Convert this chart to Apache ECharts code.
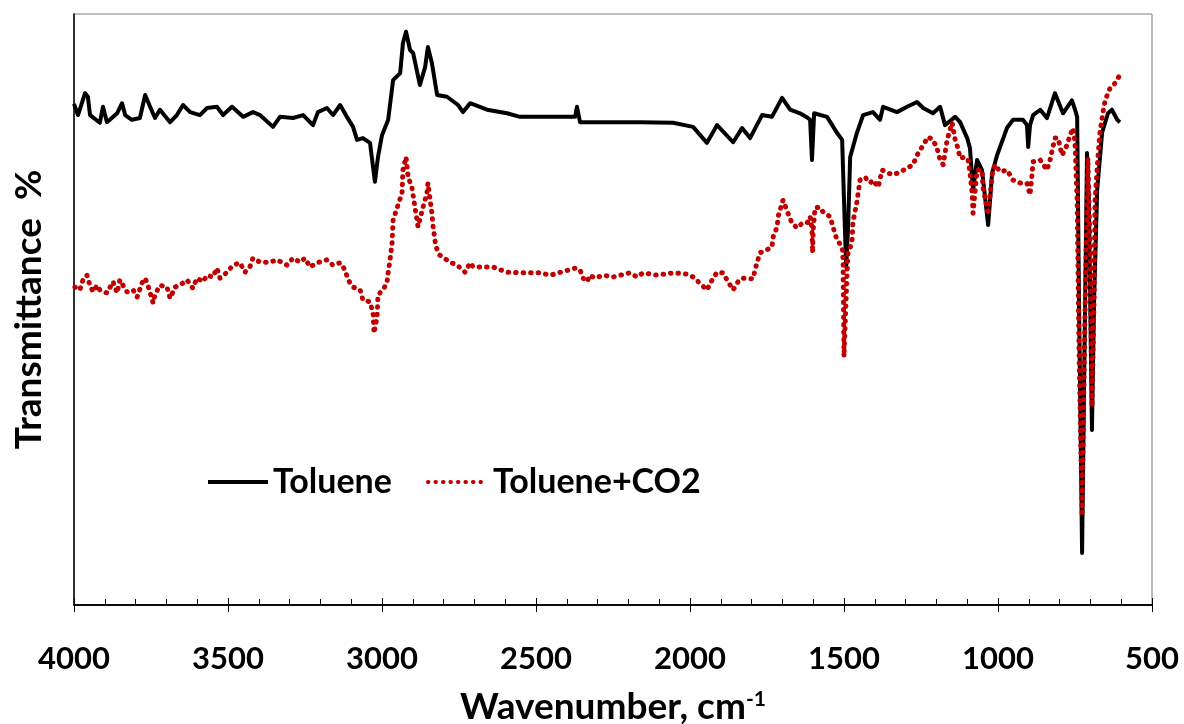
<!DOCTYPE html>
<html>
<head>
<meta charset="utf-8">
<title>FTIR Toluene</title>
<script src="https://cdn.jsdelivr.net/npm/echarts@6/dist/echarts.min.js"></script>
<style>
  html, body { margin: 0; padding: 0; background: #fff; }
  #chart { width: 1184px; height: 724px; }
</style>
</head>
<body>
<div id="chart"></div>
<script>
// wavenumber (cm-1), transmittance (arbitrary %)
var toluene = [
  [4000, 84.8], [3987, 82.9], [3964, 86.6], [3955, 86.0], [3948, 82.9], [3916, 81.6],
  [3906, 84.3], [3893, 81.7], [3860, 83.2], [3844, 84.9], [3834, 82.9], [3812, 82.1],
  [3786, 82.4], [3769, 86.3], [3753, 84.3], [3737, 82.4], [3721, 83.8], [3688, 81.7],
  [3666, 82.9], [3646, 84.6], [3623, 83.4], [3591, 82.9], [3568, 84.1], [3536, 84.3],
  [3516, 82.9], [3487, 84.3], [3451, 82.6], [3419, 83.4], [3396, 82.9], [3354, 80.9],
  [3331, 82.6], [3289, 82.4], [3256, 82.9], [3224, 81.2], [3208, 83.4], [3179, 84.1],
  [3159, 82.9], [3136, 84.6], [3114, 82.6], [3094, 80.9], [3081, 78.7], [3062, 79.0],
  [3039, 78.2], [3023, 71.6], [3013, 75.8], [3000, 79.5], [2980, 82.1], [2964, 88.8],
  [2941, 90.0], [2932, 95.1], [2922, 97.0], [2909, 93.9], [2899, 93.4], [2877, 88.0],
  [2860, 91.0], [2851, 94.4], [2838, 91.7], [2821, 86.3], [2789, 86.0], [2753, 84.6],
  [2737, 83.4], [2714, 84.9], [2659, 83.8], [2594, 83.2], [2552, 82.6], [2487, 82.6],
  [2373, 82.6], [2367, 84.3], [2357, 81.7], [2269, 81.7], [2162, 81.7], [2055, 81.6],
  [1990, 80.9], [1945, 78.2], [1912, 81.2], [1860, 78.3], [1831, 80.7], [1805, 79.0],
  [1766, 82.9], [1734, 82.6], [1701, 85.8], [1675, 83.8], [1643, 83.2], [1617, 82.4],
  [1610, 82.1], [1604, 75.3], [1597, 83.2], [1555, 82.6], [1523, 79.9], [1506, 78.7],
  [1500, 68.5], [1493, 57.2], [1487, 63.5], [1480, 75.8], [1458, 79.9], [1438, 82.9],
  [1406, 83.4], [1383, 82.1], [1373, 84.3], [1328, 83.4], [1295, 84.3], [1263, 85.1],
  [1243, 84.1], [1211, 83.2], [1188, 84.3], [1172, 81.2], [1139, 82.6], [1123, 81.7],
  [1100, 79.0], [1091, 77.3], [1081, 70.2], [1068, 75.3], [1052, 73.6], [1032, 64.3],
  [1019, 73.1], [1003, 76.1], [971, 80.7], [951, 82.1], [919, 82.1], [906, 81.2],
  [902, 77.5], [896, 81.2], [886, 82.9], [863, 83.8], [841, 82.4], [815, 86.6],
  [789, 83.2], [760, 85.4], [750, 83.8], [743, 82.6], [737, 51.6], [727, 8.8],
  [721, 34.7], [711, 76.5], [705, 68.5], [695, 29.6], [688, 51.6], [678, 70.2],
  [662, 79.9], [643, 83.2], [630, 83.8], [613, 82.1], [604, 81.7]
];

var tolueneCO2 = [
  [3997, 53.8], [3981, 53.3], [3971, 55.0], [3958, 55.8], [3948, 54.1], [3938, 53.0],
  [3925, 54.1], [3916, 53.3], [3893, 52.8], [3873, 54.7], [3860, 52.8], [3851, 55.0],
  [3841, 54.1], [3828, 53.0], [3808, 53.3], [3795, 52.1], [3779, 54.5], [3769, 55.3],
  [3760, 54.1], [3743, 51.1], [3737, 52.5], [3721, 54.1], [3698, 53.8], [3688, 51.9],
  [3672, 53.8], [3656, 54.1], [3633, 55.0], [3614, 53.6], [3601, 55.3], [3581, 54.7],
  [3568, 55.8], [3549, 55.5], [3536, 57.0], [3526, 55.3], [3503, 56.3], [3484, 57.5],
  [3461, 57.9], [3445, 56.3], [3429, 57.2], [3419, 58.7], [3396, 58.0], [3364, 58.0],
  [3341, 58.4], [3308, 57.5], [3289, 58.7], [3266, 58.0], [3250, 58.7], [3234, 57.2],
  [3211, 57.9], [3179, 58.4], [3159, 57.5], [3136, 57.9], [3120, 56.7], [3110, 55.0],
  [3094, 53.8], [3071, 53.3], [3062, 51.6], [3039, 51.3], [3029, 49.4], [3026, 46.0],
  [3016, 48.7], [3013, 52.5], [2997, 53.3], [2984, 54.5], [2980, 56.2], [2974, 58.4],
  [2967, 61.4], [2964, 65.1], [2951, 67.2], [2935, 69.7], [2932, 73.6], [2922, 75.8],
  [2915, 72.4], [2903, 70.7], [2893, 67.3], [2883, 64.0], [2867, 67.3], [2854, 69.7],
  [2851, 71.4], [2838, 66.3], [2834, 64.0], [2825, 60.6], [2812, 59.2], [2779, 58.0],
  [2756, 57.5], [2730, 56.3], [2714, 57.9], [2704, 57.2], [2640, 57.2], [2594, 56.3],
  [2542, 56.2], [2487, 56.2], [2454, 55.8], [2373, 57.0], [2357, 56.7], [2347, 55.3],
  [2334, 54.7], [2325, 55.8], [2308, 55.3], [2282, 55.8], [2250, 55.5], [2195, 56.2],
  [2172, 55.5], [2152, 56.2], [2107, 55.8], [2055, 56.2], [2010, 56.0], [1990, 55.5],
  [1961, 54.1], [1945, 53.3], [1928, 55.0], [1912, 56.3], [1893, 56.2], [1880, 55.0],
  [1860, 53.3], [1844, 54.7], [1831, 55.3], [1795, 55.2], [1789, 56.7], [1773, 59.6],
  [1750, 60.1], [1734, 60.6], [1730, 62.3], [1717, 64.0], [1714, 65.7], [1698, 68.5],
  [1682, 66.3], [1669, 64.6], [1652, 63.8], [1636, 64.6], [1620, 64.6], [1610, 65.7],
  [1604, 63.8], [1602, 59.6], [1600, 63.5], [1594, 67.2], [1578, 67.3], [1568, 66.5],
  [1545, 65.7], [1536, 64.0], [1523, 61.8], [1506, 60.6], [1503, 58.4], [1500, 42.0],
  [1490, 56.2], [1487, 59.6], [1474, 61.3], [1471, 64.8], [1458, 68.2], [1448, 71.9],
  [1432, 72.4], [1415, 71.4], [1406, 71.9], [1389, 70.7], [1376, 73.6], [1344, 72.8],
  [1325, 73.1], [1295, 73.9], [1276, 74.5], [1263, 76.1], [1243, 77.8], [1227, 79.2],
  [1211, 78.7], [1198, 77.3], [1188, 75.3], [1178, 74.5], [1165, 78.7], [1156, 80.4],
  [1149, 81.6], [1139, 78.7], [1130, 77.3], [1123, 75.6], [1107, 75.8], [1097, 75.3],
  [1091, 73.1], [1084, 69.7], [1081, 66.3], [1068, 73.6], [1052, 73.6], [1049, 70.7],
  [1036, 67.3], [1032, 66.0], [1019, 72.8], [1010, 74.5], [993, 73.3], [971, 73.6],
  [951, 71.9], [928, 71.4], [906, 71.4], [896, 69.4], [889, 73.1], [886, 75.0],
  [863, 75.3], [841, 73.6], [831, 75.3], [824, 77.0], [815, 79.0], [805, 79.0],
  [792, 76.1], [776, 77.8], [766, 79.5], [756, 80.7], [750, 78.2], [743, 68.5],
  [737, 43.1], [727, 15.6], [721, 38.1], [714, 60.1], [708, 75.6], [701, 60.1],
  [695, 33.5], [688, 51.6], [685, 68.5], [675, 76.1], [669, 80.0], [659, 83.4],
  [652, 85.4], [636, 87.5], [620, 88.3], [604, 89.7]
];

var xTicks = [500, 1000, 1500, 2000, 2500, 3000, 3500, 4000];

var font = 'Lato, "Open Sans", sans-serif';

var chart = echarts.init(document.getElementById('chart'));
chart.setOption({
  animation: false,
  backgroundColor: '#fff',
  grid: {
    left: 74,
    right: 32,
    top: 14,
    bottom: 119,
    outerBoundsMode: 'none',
    containLabel: false,
    show: true,
    borderColor: '#7f7f7f',
    borderWidth: 1
  },
  legend: {
    left: 201,
    top: 460,
    itemWidth: 60,
    itemHeight: 20,
    itemGap: 34,
    itemStyle: { opacity: 0, borderWidth: 0 },
    lineStyle: { width: 4 },
    textStyle: { fontFamily: font, fontWeight: 'bold', fontSize: 34, color: '#000' },
    data: ['Toluene', 'Toluene+CO2']
  },
  xAxis: [
    {
      type: 'value',
      inverse: true,
      min: 500,
      max: 4000,
      interval: 500,
      axisLine: { show: true, lineStyle: { color: '#000', width: 1.5 } },
      axisTick: { show: true, inside: false, length: 7, lineStyle: { color: '#000', width: 1 } },
      axisLabel: {
        margin: 38,
        fontFamily: font,
        fontWeight: 'bold',
        fontSize: 31,
        color: '#000',
        formatter: function (v) { return xTicks.indexOf(v) >= 0 ? String(v) : '' }
      },
      splitLine: { show: false },
      name: 'Wavenumber, cm{sup|-1}',
      nameLocation: 'middle',
      nameGap: 84,
      nameTextStyle: {
        fontFamily: font,
        fontWeight: 'bold',
        fontSize: 37,
        color: '#000',
        rich: {
          sup: { fontFamily: font, fontWeight: 'bold', fontSize: 21, color: '#000', verticalAlign: 'top', padding: [0, 0, 16, 0] }
        }
      }
    },
    {
      type: 'value',
      inverse: true,
      min: 500,
      max: 4000,
      interval: 500,
      position: 'bottom',
      axisLine: { show: true, lineStyle: { color: '#000', width: 1.5 } },
      axisTick: { show: true, inside: true, length: 7, lineStyle: { color: '#000', width: 1 } },
      minorTick: { show: true, splitNumber: 5, length: 6, lineStyle: { color: '#000', width: 1 } },
      axisLabel: { show: false },
      splitLine: { show: false }
    }
  ],
  yAxis: {
    type: 'value',
    min: 0,
    max: 100,
    axisLine: { show: true, lineStyle: { color: '#000', width: 1.5 } },
    axisTick: { show: false },
    axisLabel: { show: false },
    splitLine: { show: false },
    name: 'Transmittance\u00a0\u00a0%',
    nameLocation: 'middle',
    nameRotate: 90,
    nameGap: 26,
    nameTextStyle: { fontFamily: font, fontWeight: 'bold', fontSize: 37, color: '#000' }
  },
  series: [
    {
      name: 'Toluene',
      type: 'line',
      data: toluene,
      symbol: 'none',
      lineStyle: { color: '#000', width: 4, join: 'round' },
      itemStyle: { color: '#000' }
    },
    {
      name: 'Toluene+CO2',
      type: 'line',
      data: tolueneCO2,
      symbol: 'none',
      lineStyle: { color: '#c00000', width: 5, type: [0.5, 7], cap: 'round', join: 'round' },
      itemStyle: { color: '#c00000' }
    }
  ]
});
</script>
</body>
</html>
